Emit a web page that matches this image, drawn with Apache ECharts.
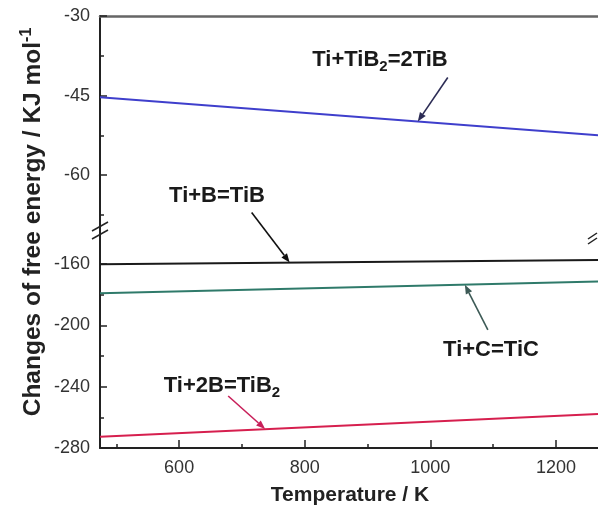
<!DOCTYPE html>
<html><head><meta charset="utf-8">
<script src="https://cdn.jsdelivr.net/npm/echarts@6/dist/echarts.min.js"></script>
<style>html,body{margin:0;padding:0;background:#fff}#c{width:598px;height:508px}</style>
</head><body><div id="c"></div>
<script>
// Temperature (K) at left and right edges of the plot
const temperature = [474, 1267];
// Changes of free energy (kJ/mol)
const tiTiB2 = [-45.3, -52.5];   // Ti+TiB2=2TiB (upper panel)
const tiB    = [-160.2, -157.4]; // Ti+B=TiB
const tiC    = [-179.1, -171.5]; // Ti+C=TiC
const ti2B   = [-272.7, -257.8]; // Ti+2B=TiB2

const xTicks = [600, 800, 1000, 1200];
const xMinor = [500, 700, 900, 1100];
const yTopTicks = [-60, -45, -30];
const yTopMinor = [-67.5, -52.5, -37.5];
const yBotTicks = [-280, -240, -200, -160];
const yBotMinor = [-260, -220, -180];

const xMin = 474, xMax = 1267;
const yTopMin = -71.3, yTopMax = -30;
const yBotMin = -280, yBotMax = -141.1;

const FONT = 'Liberation Sans, Arial, sans-serif';
const pairs = v => temperature.map((t, i) => [t, v[i]]);

const chart = echarts.init(document.getElementById('c'));

function xAx(grid, extra) {
  return Object.assign({type: 'value', gridIndex: grid, min: xMin, max: xMax,
    splitLine: {show: false}, axisLabel: {show: false}, axisTick: {show: false},
    axisLine: {show: false}}, extra);
}
function yAx(grid, min, max, extra) {
  return Object.assign({type: 'value', gridIndex: grid, min: min, max: max, position: 'left',
    splitLine: {show: false}, axisLabel: {show: false}, axisTick: {show: false},
    axisLine: {show: false}}, extra);
}
const labelStyle = {show: true, color: '#333', fontSize: 18, fontFamily: FONT, formatter: v => String(v)};

chart.setOption({
  animation: false,
  backgroundColor: '#fff',
  grid: [
    {left: 100, right: 0, top: 16, height: 219},
    {left: 100, right: 0, top: 235, height: 213}
  ],
  xAxis: [
    xAx(0, {position: 'top', axisLine: {show: true, onZero: false, lineStyle: {color: '#666', width: 2.5}}}),
    xAx(1, {position: 'bottom',
      axisLine: {show: true, onZero: false, lineStyle: {color: '#222', width: 2}},
      axisTick: {show: true, inside: true, length: 8, customValues: xTicks, lineStyle: {color: '#222', width: 1.5}},
      axisLabel: Object.assign({}, labelStyle, {customValues: xTicks, margin: 11})}),
    xAx(1, {position: 'bottom',
      axisTick: {show: true, inside: true, length: 4, customValues: xMinor, lineStyle: {color: '#222', width: 1.5}}})
  ],
  yAxis: [
    yAx(0, yTopMin, yTopMax, {
      axisLine: {show: true, onZero: false, lineStyle: {color: '#222', width: 2}},
      axisTick: {show: true, inside: true, length: 7, customValues: yTopTicks, lineStyle: {color: '#222', width: 1.5}},
      axisLabel: Object.assign({}, labelStyle, {customValues: yTopTicks, margin: 10})}),
    yAx(0, yTopMin, yTopMax, {
      axisTick: {show: true, inside: true, length: 4, customValues: yTopMinor, lineStyle: {color: '#222', width: 1.5}}}),
    yAx(1, yBotMin, yBotMax, {
      axisLine: {show: true, onZero: false, lineStyle: {color: '#222', width: 2}},
      axisTick: {show: true, inside: true, length: 7, customValues: yBotTicks, lineStyle: {color: '#222', width: 1.5}},
      axisLabel: Object.assign({}, labelStyle, {customValues: yBotTicks, margin: 10})}),
    yAx(1, yBotMin, yBotMax, {
      axisTick: {show: true, inside: true, length: 4, customValues: yBotMinor, lineStyle: {color: '#222', width: 1.5}}})
  ],
  series: [
    {type: 'line', xAxisIndex: 0, yAxisIndex: 0, data: pairs(tiTiB2), showSymbol: false,
     lineStyle: {color: '#3f3fcc', width: 2}},
    {type: 'line', xAxisIndex: 1, yAxisIndex: 2, data: pairs(tiB), showSymbol: false,
     lineStyle: {color: '#1a1a1a', width: 2}},
    {type: 'line', xAxisIndex: 1, yAxisIndex: 2, data: pairs(tiC), showSymbol: false,
     lineStyle: {color: '#2f7a6a', width: 2}},
    {type: 'line', xAxisIndex: 1, yAxisIndex: 2, data: pairs(ti2B), showSymbol: false,
     lineStyle: {color: '#d61f4e', width: 2}}
  ]
});

// Annotations: arrow tips in data coordinates, tail offsets & labels in px
const notes = [
  {series: 0, tip: [980, -49.9], tail: [30, -44], color: '#2c2c55', text: 'Ti+TiB{sub|2}=2TiB', pos: [380, 60]},
  {series: 1, tip: [776, -159.0], tail: [-38, -50], color: '#111', text: 'Ti+B=TiB', pos: [217, 196]},
  {series: 2, tip: [1055, -173.6], tail: [23, 45], color: '#3d5a56', text: 'Ti+C=TiC', pos: [491, 350]},
  {series: 3, tip: [737, -267.6], tail: [-37, -33], color: '#c8205a', text: 'Ti+2B=TiB{sub|2}', pos: [222, 386]}
];
const graphics = [];
notes.forEach(n => {
  const p = chart.convertToPixel({seriesIndex: n.series}, n.tip);
  const tx = p[0] + n.tail[0], ty = p[1] + n.tail[1];
  const dx = p[0] - tx, dy = p[1] - ty, L = Math.hypot(dx, dy);
  const ux = dx / L, uy = dy / L, hl = 9, hw = 3.5;
  const bx = p[0] - ux * hl, by = p[1] - uy * hl;
  graphics.push({type: 'line', shape: {x1: tx, y1: ty, x2: bx, y2: by},
    style: {stroke: n.color, lineWidth: 1.6}, z: 10});
  graphics.push({type: 'polygon', shape: {points: [[p[0], p[1]], [bx - uy * hw, by + ux * hw], [bx + uy * hw, by - ux * hw]]},
    style: {fill: n.color}, z: 10});
  graphics.push({type: 'text', x: n.pos[0], y: n.pos[1], z: 10,
    style: {text: n.text, fontSize: 22, fontWeight: 'bold', fontFamily: FONT, fill: '#1a1a1a',
      align: 'center', verticalAlign: 'middle',
      rich: {sub: {fontSize: 15, fontWeight: 'bold', fontFamily: FONT, fill: '#1a1a1a', padding: [14, 0, 0, 0]}}}});
});
// Axis break marks
[[92, 231, 108, 222], [92, 239, 108, 230], [588, 239, 597, 233], [588, 244, 597, 238]].forEach(s => {
  graphics.push({type: 'line', shape: {x1: s[0], y1: s[1], x2: s[2], y2: s[3]},
    style: {stroke: '#222', lineWidth: 1.5}, z: 11});
});
// Axis titles
graphics.push({type: 'text', x: 33, y: 222, rotation: Math.PI / 2, z: 10,
  style: {text: 'Changes of free energy / KJ mol{sup|-1}', fontSize: 24.5, fontWeight: 'bold', fontFamily: FONT,
    fill: '#222', align: 'center', verticalAlign: 'middle',
    rich: {sup: {fontSize: 16, fontWeight: 'bold', fontFamily: FONT, fill: '#222', padding: [0, 0, 12, 0]}}}});
graphics.push({type: 'text', x: 350, y: 495, z: 10,
  style: {text: 'Temperature / K', fontSize: 21, fontWeight: 'bold', fontFamily: FONT,
    fill: '#222', align: 'center', verticalAlign: 'middle'}});
chart.setOption({graphic: graphics});
</script></body></html>
